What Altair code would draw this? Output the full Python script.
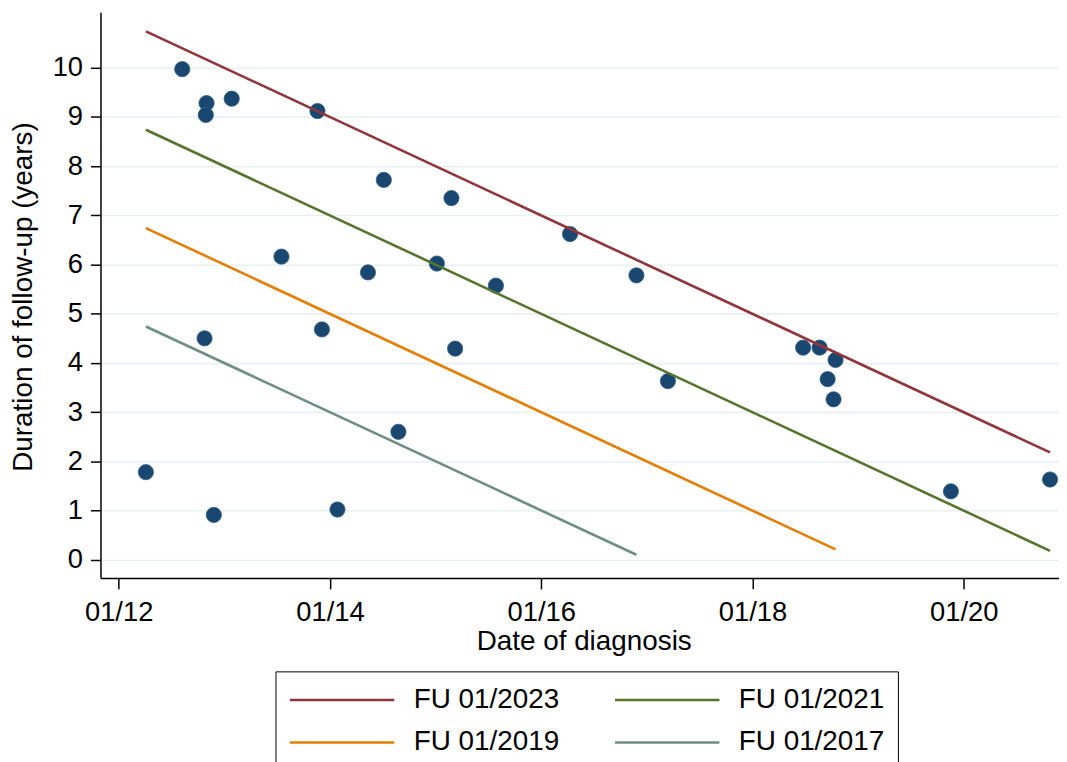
import altair as alt
import pandas as pd

# ---- data ----
diag_date = [2012.258, 2012.602, 2012.832, 2012.825, 2013.070, 2012.813, 2012.901,
             2013.541, 2013.882, 2013.924, 2014.071, 2014.360, 2014.510, 2014.648,
             2015.012, 2015.150, 2015.185, 2015.571, 2016.273, 2016.901, 2017.199,
             2018.479, 2018.635, 2018.786, 2018.711, 2018.767, 2019.878, 2020.816]
follow_up = [1.78, 9.97, 9.28, 9.04, 9.37, 4.50, 0.91,
             6.16, 9.12, 4.68, 1.02, 5.84, 7.72, 2.60,
             6.02, 7.35, 4.29, 5.57, 6.62, 5.78, 3.63,
             4.31, 4.31, 4.06, 3.67, 3.26, 1.39, 1.63]

line_labels = ["FU 01/2023", "FU 01/2021", "FU 01/2019", "FU 01/2017"]
line_colors = ["#90353b", "#55752f", "#e37e00", "#6e8e84"]
line_start_date = [2012.258, 2012.258, 2012.258, 2012.258]
line_end_date = [2020.816, 2020.816, 2018.786, 2016.901]
line_start_val = [10.74, 8.74, 6.74, 4.74]
line_end_val = [2.18, 0.18, 0.21, 0.10]

x_tick_values = [2012, 2014, 2016, 2018, 2020]
x_tick_labels = ["01/12", "01/14", "01/16", "01/18", "01/20"]
y_tick_values = [0, 1, 2, 3, 4, 5, 6, 7, 8, 9, 10]

x_domain = [2011.828, 2020.901]
y_domain = [-0.37, 11.13]

FONT = "Liberation Sans"

pts = pd.DataFrame({"date": diag_date, "fu": follow_up})
rows = []
for lab, sd, ed, sv, ev in zip(line_labels, line_start_date, line_end_date,
                               line_start_val, line_end_val):
    rows.append({"series": lab, "date": sd, "fu": sv})
    rows.append({"series": lab, "date": ed, "fu": ev})
lines = pd.DataFrame(rows)

label_expr = " : ".join(
    f"datum.value == {v} ? '{l}'" for v, l in zip(x_tick_values, x_tick_labels)
) + " : ''"

x_enc = alt.X(
    "date:Q",
    scale=alt.Scale(domain=x_domain, nice=False, zero=False),
    axis=alt.Axis(
        values=x_tick_values, labelExpr=label_expr, grid=False,
        title="Date of diagnosis", titleX=486, titleY=50, titleBaseline="top",
        titleAnchor="start", titleAlign="center",
        tickSize=11, labelPadding=10,
    ),
)
y_enc = alt.Y(
    "fu:Q",
    scale=alt.Scale(domain=y_domain, nice=False, zero=False),
    axis=alt.Axis(
        values=y_tick_values, grid=True, format="d",
        title="Duration of follow-up (years)", titleX=-77, titleY=286,
        titleAngle=270, titleBaseline="middle", titleAlign="center",
        tickSize=10, labelPadding=8,
    ),
)

points = alt.Chart(pts).mark_point(
    filled=True, shape="circle", size=235, color="#1a476f", opacity=1,
    stroke="#2d5d87", strokeWidth=0.8,
).encode(x=x_enc, y=y_enc)

line_layer = alt.Chart(lines).mark_line(strokeWidth=2.6).encode(
    x=alt.X("date:Q"),
    y=alt.Y("fu:Q"),
    color=alt.Color(
        "series:N",
        scale=alt.Scale(domain=line_labels, range=line_colors),
        sort=line_labels,
        legend=alt.Legend(
            title=None, orient="none", legendX=176, legendY=663,
            columns=2, columnPadding=50, rowPadding=13, padding=13,
            strokeColor="black",
            symbolType="M -1 0 L 6.5 0", symbolSize=784, symbolStrokeWidth=2.5,
            symbolOffset=0, labelOffset=95,
            labelFont=FONT, labelFontSize=28, labelColor="black", labelLimit=400,
            direction="horizontal",
        ),
    ),
    detail="series:N",
)

chart = alt.layer(points, line_layer).properties(
    width=964, height=569,
    autosize=alt.AutoSizeParams(type="none"),
    padding={"left": 93, "top": 2, "right": 0, "bottom": 183},
).configure_view(stroke=None).configure_axis(
    labelFont=FONT, titleFont=FONT, labelFontSize=27.5, titleFontSize=28,
    titleFontWeight="normal", labelColor="black", titleColor="black",
    domainColor="black", domainWidth=1.5, tickColor="black", tickWidth=1.5,
    gridColor="#e8f0f2", gridWidth=1.6,
)

chart.save("out.html", embed_options={"renderer": "svg", "actions": False})
